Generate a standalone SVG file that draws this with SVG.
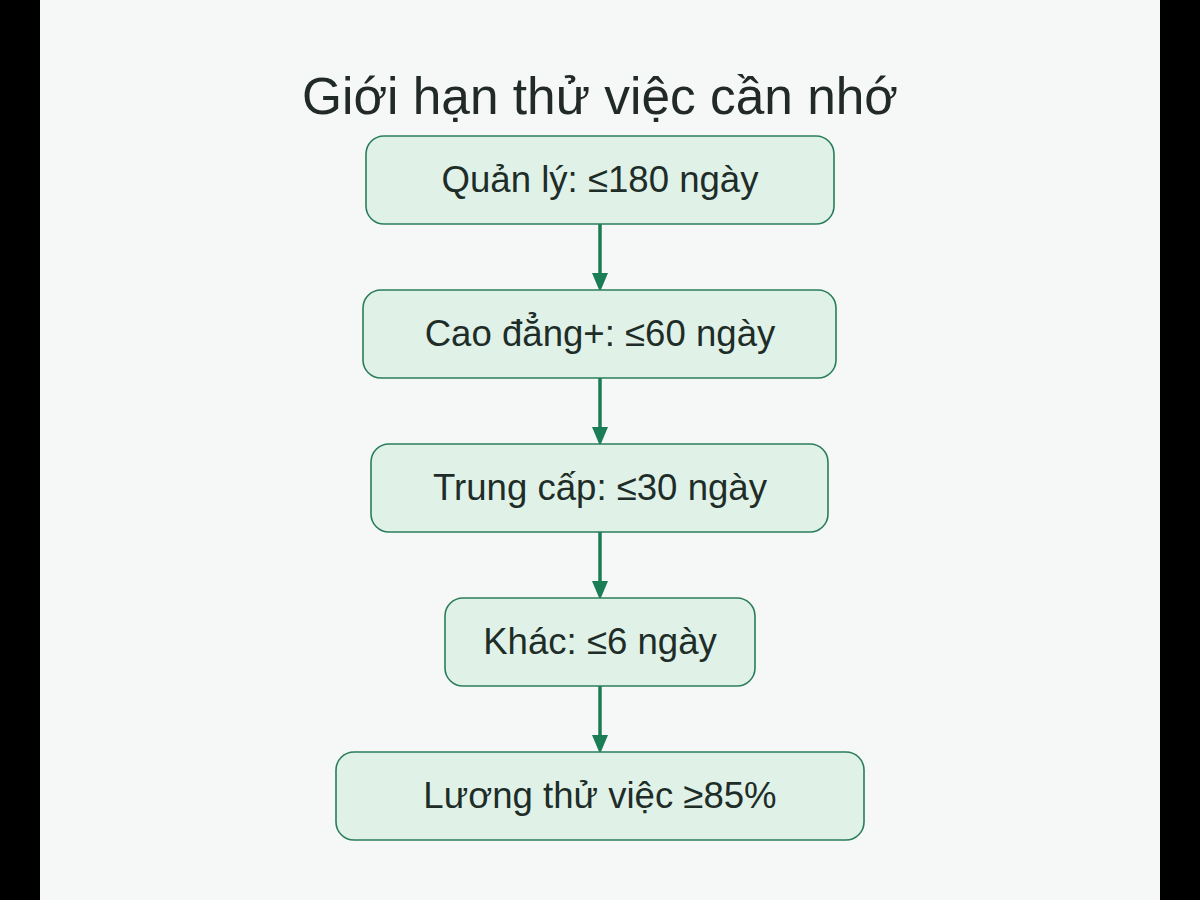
<svg xmlns="http://www.w3.org/2000/svg" width="1200" height="900" viewBox="0 0 1200 900">
  <style>
    .node rect { fill: #e0f2e8; stroke: #2a7d5a; stroke-width: 1.6; }
    .node text { font-family: "Liberation Sans", Arial, sans-serif; font-size: 36.6px; fill: #1f2d28; text-anchor: middle; }
    .title { font-family: "Liberation Sans", Arial, sans-serif; font-size: 51.4px; fill: #222a28; text-anchor: middle; }
    .conn line { stroke: #1b7d55; stroke-width: 3.5; }
    .conn polygon { fill: #1b7d55; }
  </style>
  <rect x="0" y="0" width="1200" height="900" fill="#000000"/>
  <rect x="40" y="0" width="1120" height="900" fill="#f6f8f8"/>
  <text class="title" x="600" y="114">Giới hạn thử việc cần nhớ</text>
  <g id="connectors" class="conn">
    <line x1="600" y1="224" x2="600" y2="276"/>
    <polygon points="592,273 608,273 600,292"/>
    <line x1="600" y1="378" x2="600" y2="430"/>
    <polygon points="592,427 608,427 600,446"/>
    <line x1="600" y1="532" x2="600" y2="584"/>
    <polygon points="592,581 608,581 600,600"/>
    <line x1="600" y1="686" x2="600" y2="738"/>
    <polygon points="592,735 608,735 600,754"/>
  </g>
  <g id="node-quanly" class="node">
    <rect x="366" y="136" width="468" height="88" rx="18"/>
    <text x="600" y="192">Quản lý: ≤180 ngày</text>
  </g>
  <g id="node-caodang" class="node">
    <rect x="363" y="290" width="473" height="88" rx="18"/>
    <text x="600" y="346">Cao đẳng+: ≤60 ngày</text>
  </g>
  <g id="node-trungcap" class="node">
    <rect x="371" y="444" width="457" height="88" rx="18"/>
    <text x="600" y="500">Trung cấp: ≤30 ngày</text>
  </g>
  <g id="node-khac" class="node">
    <rect x="445" y="598" width="310" height="88" rx="18"/>
    <text x="600" y="654">Khác: ≤6 ngày</text>
  </g>
  <g id="node-luong" class="node">
    <rect x="336" y="752" width="528" height="88" rx="18"/>
    <text x="600" y="808">Lương thử việc ≥85%</text>
  </g>
</svg>
